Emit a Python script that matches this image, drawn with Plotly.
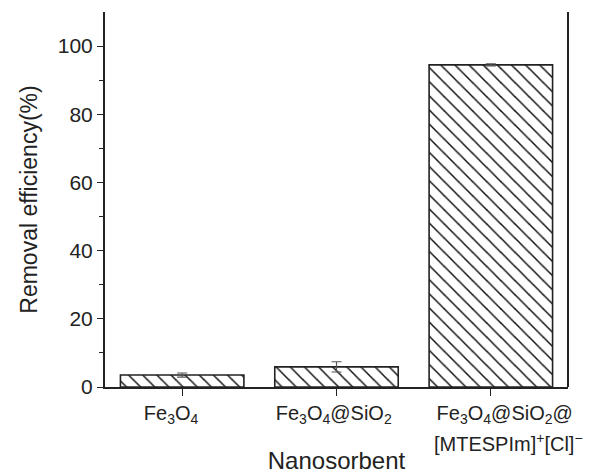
import plotly.graph_objects as go

NB = "\u00a0"
categories = ["Fe<sub>3</sub>O<sub>4</sub>",
              "Fe<sub>3</sub>O<sub>4</sub>@SiO<sub>2</sub>",
              "Fe<sub>3</sub>O<sub>4</sub>@SiO<sub>2</sub>@"]
category3_line2 = "[MTESPIm]<sup>+</sup>[Cl]<sup>−</sup>"
values = [3.5, 5.9, 94.5]
errors = [0.6, 1.5, 0.3]
y_ticks = [0, 20, 40, 60, 80, 100]

# small padding so the labels sit as in the original (slightly off-centre)
tick_text = [categories[0] + NB * 4, categories[1] + NB, NB * 5 + categories[2]]

fig = go.Figure()
fig.add_trace(go.Bar(
    x=list(range(len(categories))), y=values, width=0.8,
    marker=dict(color="white", line=dict(color="#222", width=1.6),
                pattern=dict(shape="\\", fgcolor="#111", bgcolor="white", fgopacity=1,
                             size=10, solidity=0.15)),
    error_y=dict(type="data", array=errors, color="#555", thickness=1.2, width=5),
))

fig.update_layout(
    width=591, height=466,
    margin=dict(l=97, r=31, t=4, b=87),
    plot_bgcolor="white", paper_bgcolor="white",
    font=dict(family="Liberation Sans, Arial", color="#222"),
    showlegend=False,
    xaxis=dict(range=[-0.5, 2.5], tickmode="array", tickvals=list(range(len(categories))),
               ticktext=tick_text, ticks="outside", ticklen=7, tickcolor="#222",
               showline=True, linecolor="#222", linewidth=2, showgrid=False, zeroline=False,
               tickfont=dict(size=20), automargin=False,
               title=dict(text="Nanosorbent", font=dict(size=24), standoff=28)),
    yaxis=dict(range=[0, 110], tickvals=y_ticks, ticks="outside", ticklen=6, tickcolor="#222",
               showline=True, linecolor="#222", linewidth=2, showgrid=False, zeroline=False,
               tickfont=dict(size=21), automargin=False,
               minor=dict(tickvals=[10, 30, 50, 70, 90], ticks="outside", ticklen=4, tickcolor="#222"),
               title=dict(text="Removal efficiency(%)", font=dict(size=23), standoff=14)),
)
fig.add_annotation(x=2, xref="x", y=-0.147, yref="paper", text=category3_line2, xshift=18,
                   showarrow=False, font=dict(size=20, color="#222"), yanchor="middle")
fig.add_shape(type="line", xref="paper", yref="paper", x0=1, x1=1, y0=0, y1=1,
              line=dict(color="#222", width=2))
fig.write_html("out.html")
